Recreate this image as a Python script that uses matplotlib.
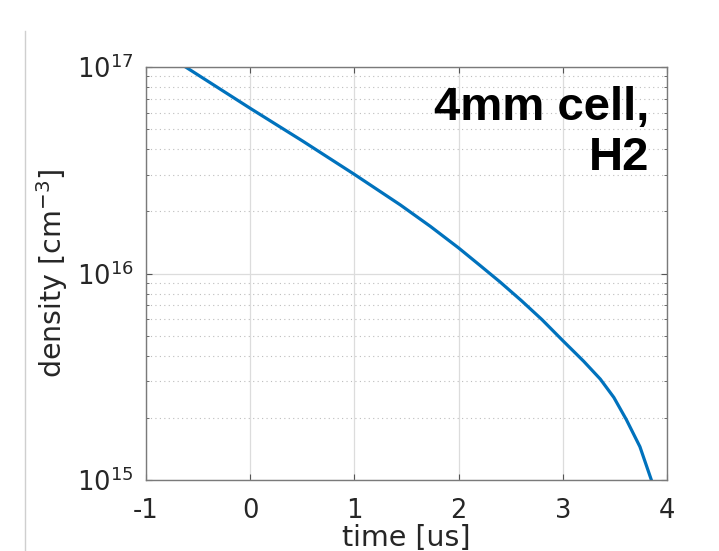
import matplotlib
matplotlib.use('Agg')
import matplotlib.pyplot as plt
from matplotlib.lines import Line2D
from matplotlib.ticker import LogLocator, NullFormatter
import numpy as np

plt.rcParams['axes.unicode_minus'] = False

# values
time_us = [-0.62, 0.0, 0.5, 1.0, 1.44, 1.73, 2.0, 2.2, 2.4, 2.6, 2.8,
           3.0, 3.2, 3.36, 3.49, 3.61, 3.74, 3.85]
density = [1.0e17, 6.31e16, 4.39e16, 3.02e16, 2.15e16, 1.69e16, 1.33e16,
           1.10e16, 9.08e15, 7.41e15, 5.98e15, 4.73e15, 3.76e15, 3.08e15,
           2.51e15, 1.96e15, 1.45e15, 1.0e15]
xticks = [-1, 0, 1, 2, 3, 4]
label = "4mm cell,\nH2"

txt = '#262626'
fig = plt.figure(figsize=(7.19, 5.51), dpi=100)
ax = fig.add_axes([146/719, 1-480/551, (667-146)/719, (480-67)/551])

ax.semilogy(time_us, density, color='#0072BD', lw=2.3, solid_joinstyle='round')
ax.set_xlim(-1, 4)
ax.set_ylim(1e15, 1e17)
ax.set_xticks(xticks)
ax.yaxis.set_minor_locator(LogLocator(base=10, subs=np.arange(2, 10)))
ax.yaxis.set_minor_formatter(NullFormatter())

ax.grid(True, which='major', color='#dcdcdc', lw=0.9, ls='-')
ax.grid(True, which='minor', axis='y', color='#bdbdbd', lw=0.8, ls=(0, (1, 3)))
ax.set_axisbelow(True)

for s in ax.spines.values():
    s.set_color('#7a7a7a')
    s.set_linewidth(1.0)
ax.tick_params(which='both', direction='in', top=True, right=True,
               colors='#555555', labelcolor=txt, labelsize=18.5)
ax.tick_params(which='major', length=4.5)
ax.tick_params(axis='y', which='major', pad=9)
ax.tick_params(axis='x', which='major', pad=13)
ax.tick_params(which='minor', length=2.5)

ax.set_xlabel('time [us]', fontsize=20.5, color=txt, labelpad=0)
ax.set_ylabel('density [cm$^{-3}$]', fontsize=20.5, color=txt, labelpad=5)

ax.text(0.965, 0.955, label, transform=ax.transAxes, ha='right', va='top',
        fontsize=34, fontweight='bold', family='Liberation Sans', color='black',
        linespacing=1.2)

fig.add_artist(Line2D([25/719, 25/719], [0, 1-31/551], color='#cfcfcf', lw=1.0))

fig.savefig('out.png', dpi=100)
